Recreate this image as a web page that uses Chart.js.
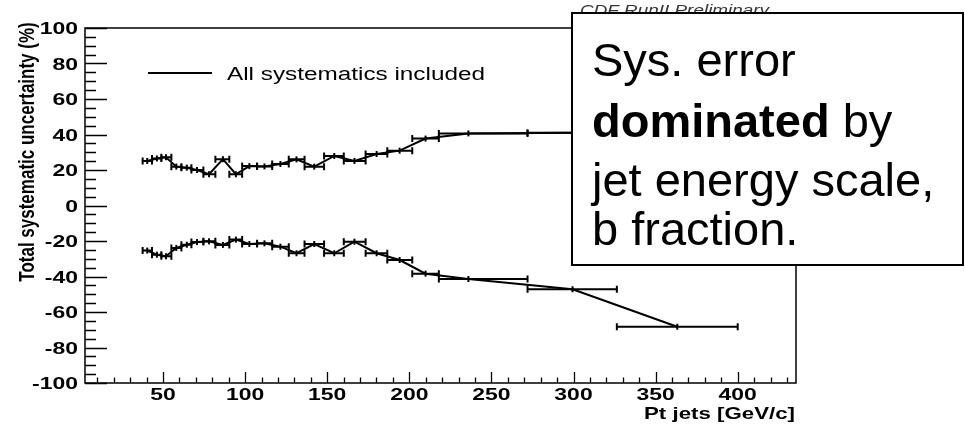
<!DOCTYPE html>
<html>
<head>
<meta charset="utf-8">
<script src="https://cdn.jsdelivr.net/npm/chart.js@4.4.1/dist/chart.umd.min.js"></script>
<style>
  body { margin: 0; background: #fff; }
  #grafica { display: block; }
</style>
</head>
<body>
<canvas id="grafica" width="965" height="425"></canvas>
<script>
// bins in Pt (GeV/c): point position and bin edges
const ptCenter = [40.4, 46.3, 51.8, 58.1, 64.5, 70.7, 78.0, 86.5, 94.4, 102.6, 111.8, 121.5, 131.3, 142.1, 154.3, 166.6, 180.1, 194.1, 209.9, 236, 299.4, 363.2];
const ptLow = [37.6, 43.3, 49, 55.1, 61.2, 67.3, 74.6, 81.9, 90.4, 98.2, 107.3, 116.5, 126.6, 136.2, 148.1, 160.1, 173.4, 186.6, 201.8, 218, 272, 326.4];
const ptHigh = [43.3, 49, 55.1, 61.2, 67.3, 74.6, 81.9, 90.4, 98.2, 107.3, 116.5, 126.6, 136.2, 148.1, 160.1, 173.4, 186.6, 201.8, 218, 272, 326.4, 400];

// total systematic uncertainty (%), up and down
const sysUp = [25.1, 26.5, 27.2, 21.9, 21.3, 20.0, 17.6, 26.1, 17.6, 22.2, 22.0, 23.4, 26.0, 21.9, 27.9, 25.1, 29.0, 30.9, 37.7, 40.6, 41.0, 41.0];
const sysDown = [-25.4, -27.7, -28.6, -23.9, -22.1, -20.6, -20.2, -22.2, -19.2, -21.7, -21.3, -23.2, -26.9, -21.7, -26.9, -20.4, -26.9, -30.7, -38.4, -41.4, -47.2, -68.3];

// ejes
const xTicks = [50, 100, 150, 200, 250, 300, 350, 400];
const xMinor = 10;
const yTicks = [-100, -80, -60, -40, -20, 0, 20, 40, 60, 80, 100];
const yMinor = 5;

const xTitle = "Pt jets [GeV/c]";
const yTitle = "Total systematic uncertainty (%)";
const legendText = "All systematics included";
const cdfText = "CDF RunII Preliminary";

const FAM = '"Liberation Sans", Arial, Helvetica, sans-serif';
const SX = 1.35; // texto del plot va ensanchado

function puntos(vals){
  return ptCenter.map((x, i) => ({x: x, y: vals[i]}));
}

function texto(ctx, str, x, y, font, align, sx){
  ctx.save();
  ctx.translate(x, y);
  ctx.scale(sx, 1);
  ctx.font = font;
  ctx.textAlign = align;
  ctx.textBaseline = 'alphabetic';
  ctx.fillText(str, 0, 0);
  ctx.restore();
}

// barras horizontales (ancho del bin) con topes
const errorBars = {
  id: 'errorBars',
  afterDatasetsDraw(chart){
    const ctx = chart.ctx;
    const xs = chart.scales.x, ys = chart.scales.y;
    ctx.save();
    ctx.strokeStyle = '#000';
    ctx.lineWidth = 2;
    [sysUp, sysDown].forEach(vals => {
      vals.forEach((v, i) => {
        const y = ys.getPixelForValue(v);
        const x1 = xs.getPixelForValue(ptLow[i]);
        const x2 = xs.getPixelForValue(ptHigh[i]);
        ctx.beginPath();
        ctx.moveTo(x1, y); ctx.lineTo(x2, y);
        ctx.moveTo(x1, y - 3.5); ctx.lineTo(x1, y + 3.5);
        ctx.moveTo(x2, y - 3.5); ctx.lineTo(x2, y + 3.5);
        ctx.stroke();
      });
    });
    ctx.restore();
  }
};

// marco, ticks, etiquetas, leyenda y recuadro
const marco = {
  id: 'marco',
  afterDraw(chart){
    const ctx = chart.ctx;
    const a = chart.chartArea;
    const xs = chart.scales.x, ys = chart.scales.y;

    ctx.save();
    ctx.strokeStyle = '#000';
    ctx.lineWidth = 1.5;
    ctx.strokeRect(a.left, a.top, a.right - a.left, a.bottom - a.top);

    // ticks eje y (hacia dentro)
    ctx.lineWidth = 1.3;
    ctx.beginPath();
    for(let v = -100; v <= 100; v += yMinor){
      const y = Math.round(ys.getPixelForValue(v)) + 0.5;
      const len = (v % 20 === 0) ? 22 : 11;
      ctx.moveTo(a.left, y); ctx.lineTo(a.left + len, y);
    }
    // ticks eje x
    for(let v = 10; v < xs.max; v += xMinor){
      const x = Math.round(xs.getPixelForValue(v)) + 0.5;
      const len = (v % 50 === 0) ? 11 : 5.5;
      ctx.moveTo(x, a.bottom); ctx.lineTo(x, a.bottom - len);
    }
    ctx.stroke();

    ctx.fillStyle = '#000';
    const fTick = 'bold 17px ' + FAM;
    yTicks.forEach(v => {
      texto(ctx, String(v), 78, ys.getPixelForValue(v) + 6, fTick, 'right', SX);
    });
    xTicks.forEach(v => {
      texto(ctx, String(v), xs.getPixelForValue(v), 400, fTick, 'center', SX);
    });

    texto(ctx, xTitle, 795, 419, 'bold 16.5px ' + FAM, 'right', SX);

    // titulo eje y, rotado
    ctx.save();
    ctx.translate(34, 152);
    ctx.scale(SX, 1);
    ctx.rotate(-Math.PI / 2);
    ctx.font = 'bold 17px ' + FAM;
    ctx.textAlign = 'center';
    ctx.textBaseline = 'alphabetic';
    ctx.fillText(yTitle, 0, 0);
    ctx.restore();

    // leyenda
    ctx.lineWidth = 1.8;
    ctx.beginPath();
    ctx.moveTo(148, 73); ctx.lineTo(212, 73);
    ctx.stroke();
    texto(ctx, legendText, 227, 80, '18px ' + FAM, 'left', SX);

    ctx.fillStyle = '#333';
    texto(ctx, cdfText, 580, 15, 'italic 14px ' + FAM, 'left', SX);

    // recuadro de texto
    ctx.fillStyle = '#fff';
    ctx.fillRect(572, 13, 391, 252);
    ctx.lineWidth = 2;
    ctx.strokeStyle = '#000';
    ctx.strokeRect(572, 13, 391, 252);

    ctx.fillStyle = '#000';
    ctx.textAlign = 'left';
    ctx.textBaseline = 'alphabetic';
    const fBox = '47px ' + FAM;
    const fBoxB = 'bold 47px ' + FAM;
    ctx.font = fBox;
    ctx.fillText('Sys. error', 592, 76);
    ctx.font = fBoxB;
    ctx.fillText('dominated', 592, 137);
    const w = ctx.measureText('dominated').width;
    ctx.font = fBox;
    ctx.fillText(' by', 592 + w, 137);
    ctx.fillText('jet energy scale,', 592, 196);
    ctx.fillText('b fraction.', 592, 245);
    ctx.restore();
  }
};

const micanvas = document.getElementById('grafica').getContext('2d');
const grafica = new Chart(micanvas, {
  type: 'scatter',
  data: {
    datasets: [
      {
        label: legendText,
        data: puntos(sysUp),
        showLine: true,
        borderColor: '#000',
        borderWidth: 2,
        pointStyle: 'line',
        rotation: 90,
        pointRadius: 3,
        pointBorderWidth: 2,
        pointBorderColor: '#000',
        tension: 0
      },
      {
        label: 'down',
        data: puntos(sysDown),
        showLine: true,
        borderColor: '#000',
        borderWidth: 2,
        pointStyle: 'line',
        rotation: 90,
        pointRadius: 3,
        pointBorderWidth: 2,
        pointBorderColor: '#000',
        tension: 0
      }
    ]
  },
  options: {
    responsive: false,
    animation: false,
    layout: { padding: { left: 85, top: 28, right: 169, bottom: 42 } },
    plugins: { legend: { display: false }, tooltip: { enabled: false } },
    scales: {
      x: { type: 'linear', min: 2.5, max: 435.5, display: false },
      y: { type: 'linear', min: -100, max: 100, display: false }
    }
  },
  plugins: [errorBars, marco]
});
</script>
</body>
</html>
